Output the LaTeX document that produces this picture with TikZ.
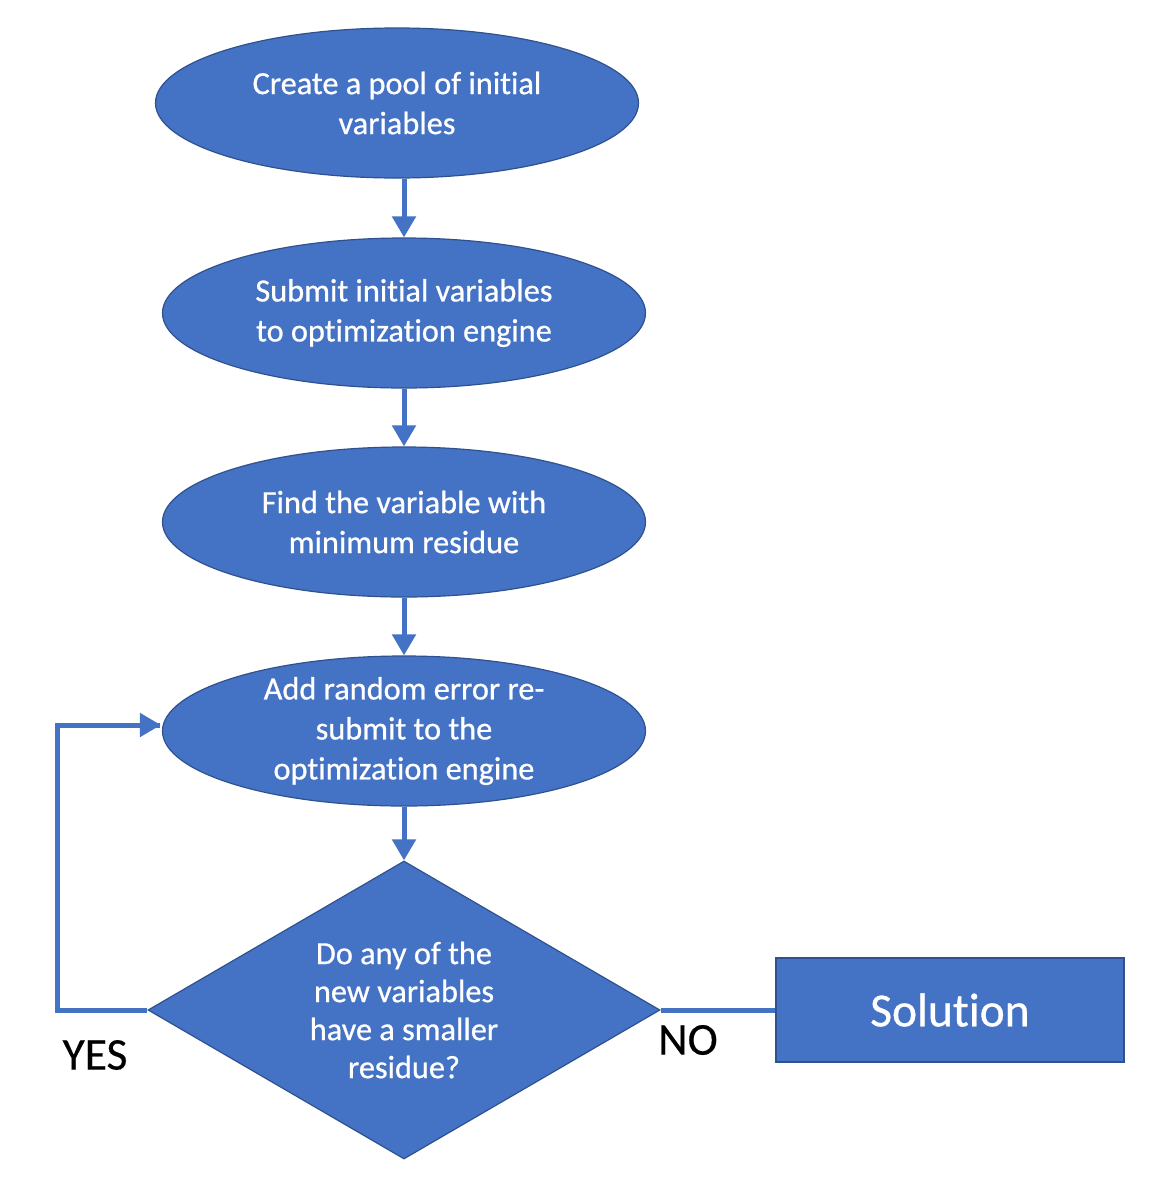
\documentclass[tikz,border=0pt]{standalone}
\usepackage{fontspec}
\setmainfont{Carlito}[Ligatures=NoCommon]
\newfontfamily\boxfont{Carlito}[Ligatures=NoCommon, FakeBold=0.7]
\newfontfamily\lblfont{Carlito}[Ligatures=NoCommon, FakeBold=0.4]
\usetikzlibrary{shapes.geometric,arrows.meta}
\definecolor{offblue}{HTML}{4472C4}
\definecolor{edgeblue}{HTML}{2F528F}
\tikzset{
  ell/.style={ellipse, fill=offblue, draw=edgeblue, line width=1.2pt, minimum width=483pt, minimum height=150pt, inner sep=0pt},
  etext/.style={text=white, align=center, font=\boxfont\fontsize{32.3}{40}\selectfont, inner sep=0pt},
  dtext/.style={etext, font=\boxfont\fontsize{32.3}{38}\selectfont},
  dia/.style={diamond, fill=offblue, draw=edgeblue, line width=1.2pt, aspect=1.718, minimum width=512pt, minimum height=298pt, inner sep=0pt},
  solbox/.style={rectangle, fill=offblue, draw=edgeblue, line width=1.2pt, minimum width=348pt, minimum height=104pt, inner sep=0pt, text=white, font=\boxfont\fontsize{47.5}{56}\selectfont},
  conn/.style={draw=offblue, line width=5pt},
  arr/.style={conn, -{Triangle[width=23pt,length=21pt]}},
  lbl/.style={text=black, font=\lblfont\fontsize{45.5}{54}\selectfont, inner sep=0pt}
}
\begin{document}
\begin{tikzpicture}[x=1pt, y=-1pt]
\useasboundingbox (0,0) rectangle (1155,1184);
\fill[white] (0,0) rectangle (1155,1184);

\node[ell] (e1) at (397,103) {};
\node[etext] (t1) at (e1.center) {Create a pool of initial\\variables};
\node[ell] (e2) at (404,313) {};
\node[etext] (t2) at (e2.center) {Submit initial variables\\to optimization engine};
\node[ell] (e3) at (404,522) {};
\node[etext] (t3) at (e3.center) {Find the variable with\\minimum residue};
\node[ell] (e4) at (404,731) {};
\node[etext] (t4) at (e4.center) {Add random error re-\\submit to the\\optimization engine};
\node[dia] (d) at (404,1010) {};
\node[dtext] (td) at (d.center) {Do any of the\\new variables\\have a smaller\\residue?};
\node[solbox] (s) at (950,1010) {Solution};

\node[lbl] (yes) at (95,1055) {YES};
\node[lbl] (no) at (688,1040) {NO};

\draw[arr] (e1.south -| e2.north) -- (e2.north);
\draw[arr] (e2.south) -- (e3.north);
\draw[arr] (e3.south) -- (e4.north);
\draw[arr] (e4.south) -- (d.north);

\coordinate (lp) at (57,725);
\draw[conn, line join=miter] (d.west) -| (lp) -- ([xshift=-2pt]e4.west |- lp);
\draw[arr] (lp) -- ([xshift=-1pt]e4.west |- lp);
\draw[conn] (d.east) -- (s.west);
\end{tikzpicture}
\end{document}
